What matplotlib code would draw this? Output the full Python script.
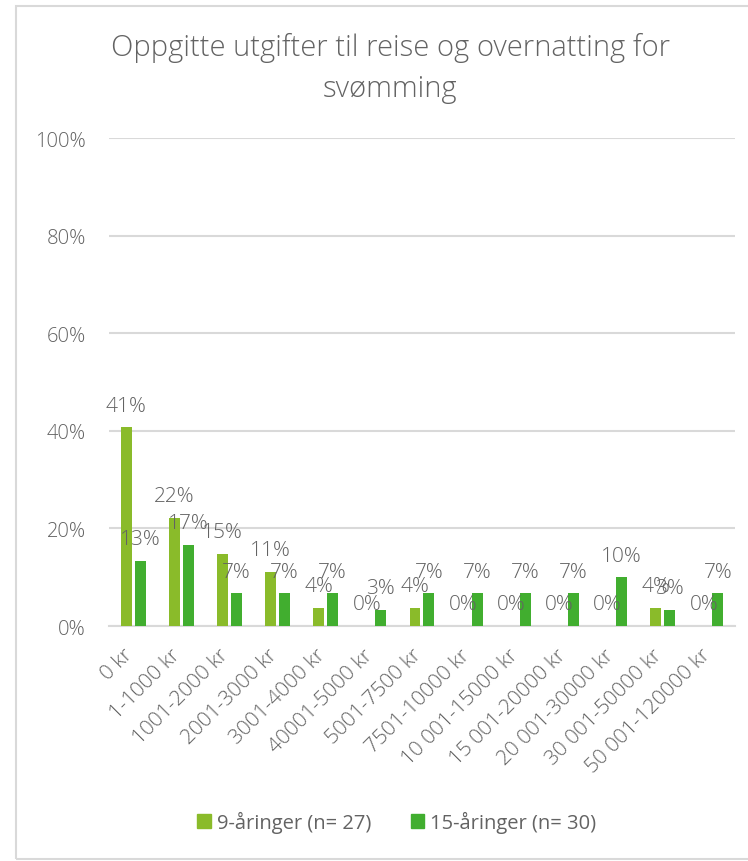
import numpy as np
import matplotlib
matplotlib.use("Agg")
import matplotlib.pyplot as plt
from matplotlib.patches import Rectangle, Patch

categories = ["0 kr", "1-1000 kr", "1001-2000 kr", "2001-3000 kr", "3001-4000 kr",
              "40001-5000 kr", "5001-7500 kr", "7501-10000 kr", "10 001-15000 kr",
              "15 001-20000 kr", "20 001-30000 kr", "30 001-50000 kr", "50 001-120000 kr"]
age9 = [40.7, 22.2, 14.8, 11.1, 3.7, 0.0, 3.7, 0.0, 0.0, 0.0, 0.0, 3.7, 0.0]
age15 = [13.3, 16.7, 6.7, 6.7, 6.7, 3.3, 6.7, 6.7, 6.7, 6.7, 10.0, 3.3, 6.7]
series_names = ["9-åringer (n= 27)", "15-åringer (n= 30)"]
yticks = [0, 20, 40, 60, 80, 100]

col9 = "#8ABB2A"
col15 = "#41AE2F"
txt = "#636363"
grid = "#D9D9D9"

plt.rcParams['font.family'] = ['Open Sans', 'DejaVu Sans']

fig = plt.figure(figsize=(7.48, 8.62), dpi=100)
ax = fig.add_axes([0.1457, 0.2726, 0.8369, 0.5661])

x = np.arange(len(categories))
w = 0.228
off = 0.145
b1 = ax.bar(x - off, age9, w, color=col9, zorder=3)
b2 = ax.bar(x + off, age15, w, color=col15, zorder=3)

# data labels above each bar
for bars, vals in ((b1, age9), (b2, age15)):
    for r, v in zip(bars, vals):
        ax.annotate(f"{v:.0f}%", (r.get_x() + r.get_width() / 2, v),
                    xytext=(0, 12), textcoords="offset points",
                    ha="center", va="baseline", fontsize=15,
                    color=txt, fontweight="light", zorder=4)

ax.set_xlim(-0.5, len(categories) - 0.5)
ax.set_ylim(0, 100)
ax.set_yticks(yticks)
ax.set_yticklabels([f"{t}%" for t in yticks], fontsize=14.5, color=txt, fontweight="light")
ax.yaxis.grid(True, color=grid, linewidth=1.5, zorder=0)
ax.tick_params(axis="y", length=0, pad=16.5)
ax.set_xticks(x)
ax.set_xticklabels(categories, rotation=45, ha="right", va="baseline",
                   rotation_mode="anchor", fontsize=15, color=txt, fontweight="light")
ax.tick_params(axis="x", length=0, pad=21)
for s in ["top", "right", "left"]:
    ax.spines[s].set_visible(False)
ax.spines["bottom"].set_color(grid)
ax.spines["bottom"].set_linewidth(1.5)

fig.text(0.522, 1 - 33 / 862, "Oppgitte utgifter til reise og overnatting for\nsvømming",
         ha="center", va="top", fontsize=21, color=txt, fontweight="light",
         linespacing=1.5)

handles = [Patch(color=col9), Patch(color=col15)]
fig.legend(handles, series_names, loc="center", bbox_to_anchor=(397 / 748, 1 - 823 / 862),
           ncol=2, frameon=False, fontsize=14.5, labelcolor=txt,
           handlelength=0.65, handleheight=0.65, handletextpad=0.3, columnspacing=2.0)

border = Rectangle((16 / 748, 2 / 862), 1.0, 1 - 9 / 862, transform=fig.transFigure,
                   fill=False, edgecolor=grid, linewidth=1.5, clip_on=False)
fig.patches.append(border)

fig.savefig("out.png", dpi=100, facecolor="white")
